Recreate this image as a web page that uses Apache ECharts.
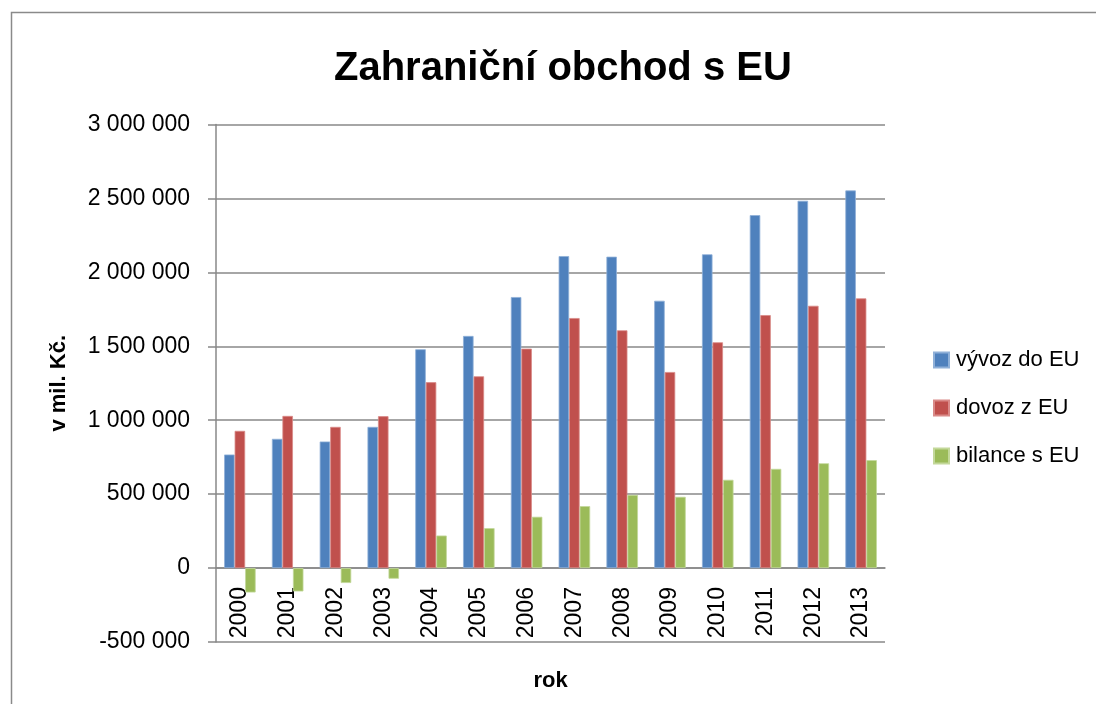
<!DOCTYPE html>
<html>
<head>
<meta charset="utf-8">
<script src="https://cdn.jsdelivr.net/npm/echarts@6/dist/echarts.min.js"></script>
<style>
html,body{margin:0;padding:0;background:#fff;}
#chart{width:1096px;height:704px;}
</style>
</head>
<body>
<div id="chart"></div>
<script>
var years = ['2000','2001','2002','2003','2004','2005','2006','2007','2008','2009','2010','2011','2012','2013'];
var vyvoz = [768000, 874000, 856000, 955000, 1480000, 1570000, 1833000, 2110000, 2106000, 1808000, 2122000, 2387000, 2484000, 2554000];
var dovoz = [928000, 1029000, 955000, 1027000, 1257000, 1297000, 1484000, 1691000, 1608000, 1326000, 1527000, 1711000, 1774000, 1824000];
var bilance = [-165000, -158000, -101000, -72000, 220000, 270000, 347000, 419000, 495000, 482000, 597000, 671000, 709000, 730000];
var seriesNames = ['vývoz do EU', 'dovoz z EU', 'bilance s EU'];
var colors = ['#4F81BD', '#C0504D', '#9BBB59'];
var borderColors = ['#8fb0d8', '#d98a88', '#c3d89a'];

var FONT = '"Liberation Sans", Arial, sans-serif';
function fmt(v){ return String(v).replace(/\B(?=(\d{3})+(?!\d))/g, ' '); }

var GRID_TOP = 124.5, GRID_BOTTOM_PX = 642, Y_MIN = -500000, Y_MAX = 3000000;
// offset to put the category axis line at value 0
var zeroOffset = -((GRID_BOTTOM_PX - GRID_TOP) * (0 - Y_MIN) / (Y_MAX - Y_MIN));

var chart = echarts.init(document.getElementById('chart'), null, {renderer:'canvas'});
var data = [vyvoz, dovoz, bilance];
var series = data.map(function(d, i){
  return {
    name: seriesNames[i],
    type: 'bar',
    data: d,
    barGap: '0%',
    barCategoryGap: '34%',
    itemStyle: {color: colors[i], borderColor: borderColors[i], borderWidth: 0.8},
    emphasis: {disabled: true}
  };
});

chart.setOption({
  animation: false,
  textStyle: {fontFamily: FONT},
  title: {
    text: 'Zahraniční obchod s EU',
    left: 329, top: 44,
    textStyle: {fontFamily: FONT, fontSize: 40, fontWeight: 'bold', color: '#000'}
  },
  graphic: [{
    type: 'rect', silent: true, z: -1,
    shape: {x: 11.5, y: 12.5, width: 1100, height: 700},
    style: {fill: 'none', stroke: '#8a8a8a', lineWidth: 1.5}
  }],
  legend: {
    orient: 'vertical',
    left: 928, top: 344,
    itemWidth: 15, itemHeight: 15, itemGap: 26,
    icon: 'rect',
    textStyle: {fontFamily: FONT, fontSize: 22, color: '#000', padding: [0,0,0,2]},
    data: seriesNames
  },
  grid: {left: 216, right: 211, top: GRID_TOP, bottom: 704 - GRID_BOTTOM_PX, containLabel: false, outerBoundsMode: 'none'},
  xAxis: {
    type: 'category',
    data: years,
    name: 'rok',
    nameLocation: 'middle',
    nameGap: 102,
    offset: zeroOffset,
    nameTextStyle: {fontFamily: FONT, fontSize: 22, fontWeight: 'bold', color: '#000'},
    axisLine: {onZero: false, lineStyle: {color: '#888', width: 1.5}},
    axisTick: {show: false},
    axisLabel: {rotate: 90, margin: 19, fontFamily: FONT, fontSize: 23, color: '#000', interval: 0}
  },
  yAxis: {
    type: 'value',
    min: Y_MIN, max: Y_MAX, interval: 500000,
    name: 'v mil. Kč.',
    nameLocation: 'middle',
    nameGap: 146,
    nameTextStyle: {fontFamily: FONT, fontSize: 22, fontWeight: 'bold', color: '#000'},
    axisLine: {show: true, lineStyle: {color: '#888', width: 1.5}},
    axisTick: {show: true, inside: false, length: 8, lineStyle: {color: '#888', width: 1.5}},
    axisLabel: {margin: 26, fontFamily: FONT, fontSize: 23, color: '#000', formatter: fmt},
    splitLine: {show: true, lineStyle: {color: '#888', width: 1.5}}
  },
  series: series
});
</script>
</body>
</html>
